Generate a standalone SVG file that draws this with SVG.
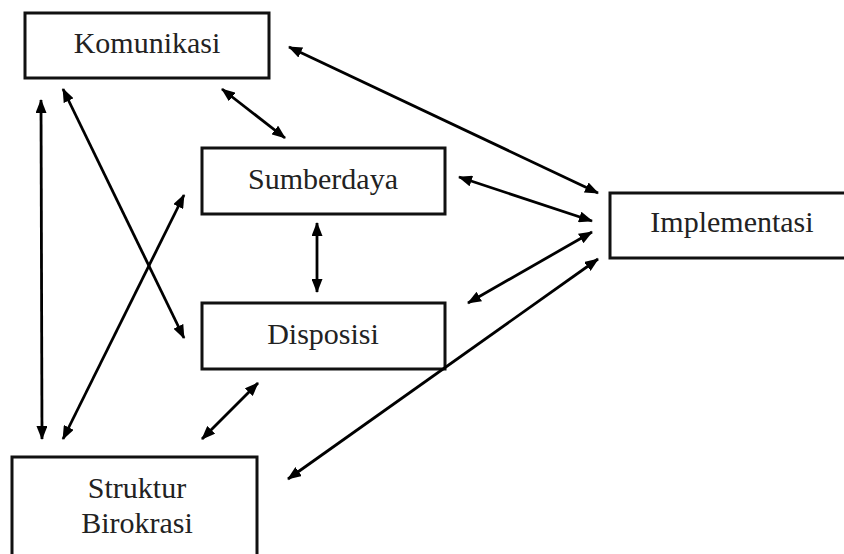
<svg xmlns="http://www.w3.org/2000/svg" width="844" height="554" viewBox="0 0 844 554">
<defs>
<marker id="ah" markerUnits="userSpaceOnUse" markerWidth="14" markerHeight="11" refX="13" refY="5.5" orient="auto-start-reverse">
<path d="M0,0 L14,5.5 L0,11 z" fill="#000"/>
</marker>
<style>
.box{fill:#fff;stroke:#111;stroke-width:3}
.lbl{font-family:"Liberation Serif","Times New Roman",serif;font-size:30px;fill:#222;text-anchor:middle}
.c line{stroke:#000;stroke-width:2.8;marker-start:url(#ah);marker-end:url(#ah)}
</style>
</defs>
<rect width="844" height="554" fill="#fff"/>
<g id="komunikasi"><rect class="box" x="25" y="13" width="244" height="65"/><text class="lbl" x="147" y="53">Komunikasi</text></g>
<g id="sumberdaya"><rect class="box" x="202" y="148" width="243" height="66"/><text class="lbl" x="323" y="189">Sumberdaya</text></g>
<g id="disposisi"><rect class="box" x="202" y="303" width="243" height="66"/><text class="lbl" x="323" y="344">Disposisi</text></g>
<g id="implementasi"><rect class="box" x="610" y="193" width="240" height="65"/><text class="lbl" x="732" y="232">Implementasi</text></g>
<g id="struktur"><rect class="box" x="12" y="457" width="245" height="110"/><text class="lbl" x="137" y="498">Struktur</text><text class="lbl" x="137" y="533">Birokrasi</text></g>
<g class="c" id="connectors">
<line x1="289" y1="47" x2="598" y2="193"/>
<line x1="222" y1="89" x2="285" y2="138"/>
<line x1="459" y1="177" x2="592" y2="221"/>
<line x1="592" y1="232" x2="468" y2="303"/>
<line x1="598" y1="259" x2="288" y2="479"/>
<line x1="317" y1="223" x2="317" y2="292"/>
<line x1="258" y1="383" x2="202" y2="439"/>
<line x1="41" y1="100" x2="42" y2="439"/>
<line x1="63" y1="89" x2="184" y2="338"/>
<line x1="184" y1="195" x2="63" y2="439"/>
</g>
</svg>
